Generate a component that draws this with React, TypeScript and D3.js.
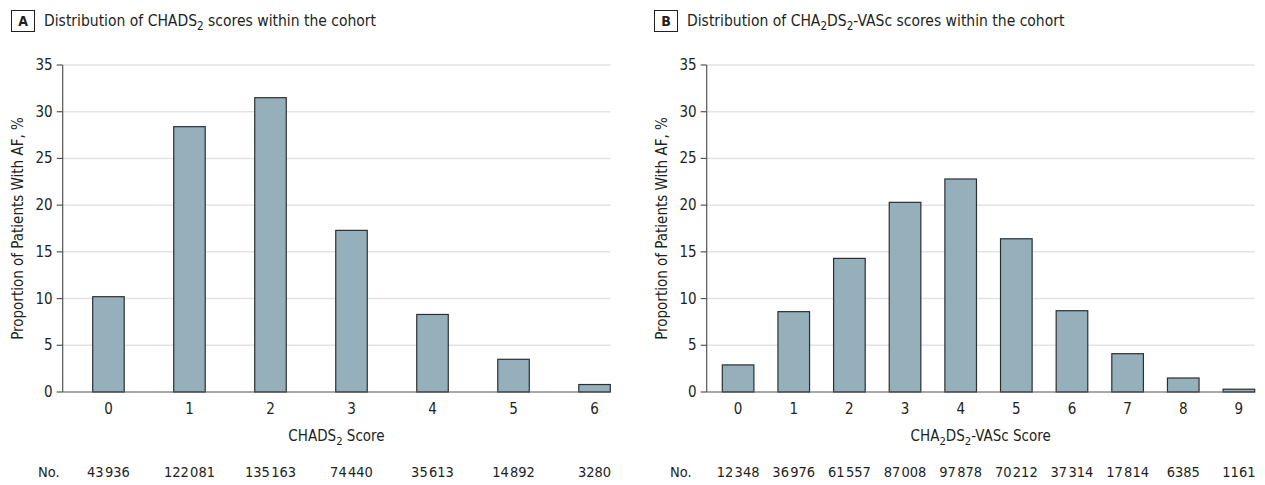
import React from 'react';
import * as d3 from 'd3';

// panel A: CHADS2
const chadsScores = ['0', '1', '2', '3', '4', '5', '6'];
const chadsPct = [10.2, 28.4, 31.5, 17.3, 8.3, 3.5, 0.8];
const chadsCounts = [43936, 122081, 135163, 74440, 35613, 14892, 3280];

// panel B: CHA2DS2-VASc
const vascScores = ['0', '1', '2', '3', '4', '5', '6', '7', '8', '9'];
const vascPct = [2.9, 8.6, 14.3, 20.3, 22.8, 16.4, 8.7, 4.1, 1.5, 0.3];
const vascCounts = [12348, 36976, 61557, 87008, 97878, 70212, 37314, 17814, 6385, 1161];

const yTicks = [0, 5, 10, 15, 20, 25, 30, 35];

const FONT = '"DejaVu Sans Condensed", "Liberation Sans Narrow", "Noto Sans", sans-serif';
const BAR_FILL = '#95b0bb';
const INK = '#231f20';

const thin = d3.formatLocale({ decimal: '.', thousands: '\u200A', grouping: [3], currency: ['', ''] }).format(',');
const fmtCount = (n: number) => (n >= 10000 ? thin(n) : String(n));

// text with subscripts: segments alternate normal / subscript, starting normal
function Sub({ parts }: { parts: string[] }) {
  return (
    <>
      {parts.map((t, i) =>
        i % 2 === 1 ? (
          <tspan key={i} dy={4} fontSize="0.75em">{t}</tspan>
        ) : (
          <tspan key={i} dy={i === 0 ? 0 : -4}>{t}</tspan>
        )
      )}
    </>
  );
}

type PanelProps = {
  letter: string;
  title: string[];
  xTitle: string[];
  scores: string[];
  pct: number[];
  counts: number[];
  axisX: number;
  barStart: number;
  barEnd: number;
  inner: number;
  boxX: number;
  labelX: number;
  noX: number;
};

function Panel(p: PanelProps) {
  const top = 65;
  const base = 392;
  const y = d3.scaleLinear().domain([0, 35]).range([base, top]);
  const x = d3.scaleBand<string>().domain(p.scores).range([p.barStart, p.barEnd]).paddingInner(p.inner).paddingOuter(0);
  const bw = x.bandwidth();
  const end = p.barEnd;
  const midX = (p.axisX + end) / 2;

  return (
    <g fontFamily={FONT} fill={INK}>
      {/* panel heading */}
      <rect x={p.boxX + 0.5} y={10.5} width={23} height={21} fill="none" stroke={INK} strokeWidth={1} />
      <text x={p.boxX + 12} y={26} textAnchor="middle" fontWeight="bold" fontSize={14}>{p.letter}</text>
      <text x={p.boxX + 33} y={26} fontSize={15.5}><Sub parts={p.title} /></text>

      {/* grid */}
      {yTicks.filter((t) => t > 0).map((t) => (
        <line key={t} x1={p.axisX} x2={end} y1={y(t)} y2={y(t)} stroke="#e3e3e3" strokeWidth={1.5} />
      ))}

      {/* bars */}
      {p.pct.map((v, i) => (
        <rect key={i} x={x(p.scores[i])} y={y(v)} width={bw} height={base - y(v)}
          fill={BAR_FILL} stroke="#2b2f33" strokeWidth={1.2} />
      ))}

      {/* axes */}
      <line x1={p.axisX} x2={p.axisX} y1={top} y2={base} stroke="#555" strokeWidth={1.2} />
      <line x1={p.axisX} x2={end} y1={base} y2={base} stroke="#555" strokeWidth={1.2} />
      {yTicks.map((t) => (
        <g key={t}>
          <line x1={p.axisX - 6} x2={p.axisX} y1={y(t)} y2={y(t)} stroke="#555" strokeWidth={1.2} />
          <text x={p.axisX - 10} y={y(t) + 5} textAnchor="end" fontSize={15}>{t}</text>
        </g>
      ))}
      {p.scores.map((s) => (
        <text key={s} x={x(s)! + bw / 2} y={414} textAnchor="middle" fontSize={15}>{s}</text>
      ))}

      <text x={midX} y={441} textAnchor="middle" fontSize={15}><Sub parts={p.xTitle} /></text>
      <text transform={`translate(${p.labelX},${(top + base) / 2}) rotate(-90)`} textAnchor="middle" fontSize={15}>
        Proportion of Patients With AF, %
      </text>

      {/* counts row */}
      <text x={p.noX} y={477} fontSize={14.5}>No.</text>
      {p.counts.map((c, i) => (
        <text key={i} x={x(p.scores[i])! + bw / 2} y={477} textAnchor="middle" fontSize={14.5}>{fmtCount(c)}</text>
      ))}
    </g>
  );
}

export default function App() {
  return (
    <svg width={1265} height={485} style={{ position: 'absolute', left: 0, top: 0, background: '#fff' }}>
      <Panel
        letter="A"
        title={['Distribution of CHADS', '2', ' scores within the cohort']}
        xTitle={['CHADS', '2', ' Score']}
        scores={chadsScores}
        pct={chadsPct}
        counts={chadsCounts}
        axisX={62.7}
        barStart={92.7}
        barEnd={610.3}
        inner={0.611}
        boxX={11}
        labelX={23}
        noX={38}
      />
      <Panel
        letter="B"
        title={['Distribution of CHA', '2', 'DS', '2', '-VASc scores within the cohort']}
        xTitle={['CHA', '2', 'DS', '2', '-VASc Score']}
        scores={vascScores}
        pct={vascPct}
        counts={vascCounts}
        axisX={706.7}
        barStart={722.3}
        barEnd={1254.7}
        inner={0.432}
        boxX={654}
        labelX={667}
        noX={670}
      />
    </svg>
  );
}
